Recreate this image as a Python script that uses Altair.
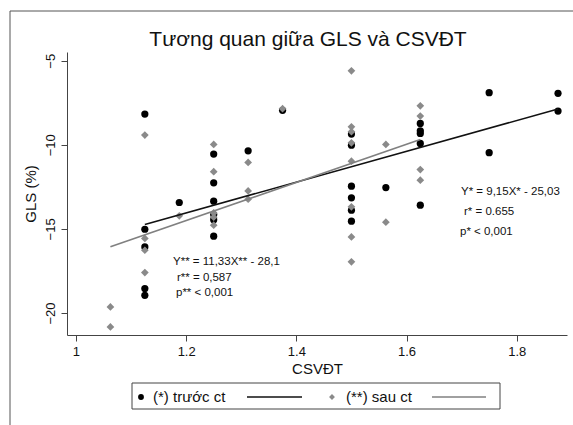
import altair as alt
import pandas as pd

# ---- data ----
before_x = [1.125, 1.125, 1.125, 1.125, 1.125,
            1.1875,
            1.25, 1.25, 1.25, 1.25, 1.25, 1.25,
            1.3125, 1.375,
            1.5, 1.5, 1.5, 1.5, 1.5, 1.5,
            1.5625,
            1.625, 1.625, 1.625, 1.625, 1.625,
            1.75, 1.75, 1.875, 1.875]
before_y = [-8.17, -15.02, -16.07, -18.55, -18.95,
            -13.43,
            -10.55, -12.26, -13.35, -14.15, -14.45, -15.43,
            -10.36, -7.95,
            -9.36, -10.02, -12.46, -13.15, -13.89, -14.54,
            -12.54,
            -8.73, -9.17, -9.32, -9.92, -13.59,
            -6.9, -10.47, -6.94, -7.99]

after_x = [1.0625, 1.0625,
           1.125, 1.125, 1.125, 1.125,
           1.1875,
           1.25, 1.25, 1.25, 1.25, 1.25,
           1.3125, 1.3125, 1.3125,
           1.375,
           1.5, 1.5, 1.5, 1.5, 1.5, 1.5, 1.5, 1.5,
           1.5625, 1.5625,
           1.625, 1.625, 1.625, 1.625]
after_y = [-19.64, -20.83,
           -9.42, -15.57, -16.27, -17.6,
           -14.22,
           -9.98, -11.6, -14.05, -14.3, -14.78,
           -11.05, -12.74, -13.23,
           -7.85,
           -5.6, -8.93, -9.22, -9.88, -10.97, -13.69, -15.48, -16.96,
           -9.98, -14.6,
           -7.68, -8.29, -11.47, -12.1]

fit_before_x = [1.125, 1.875]
fit_before_y = [-14.74, -7.87]
fit_after_x = [1.0625, 1.625]
fit_after_y = [-16.06, -9.69]

x_ticks = [1, 1.2, 1.4, 1.6, 1.8]
y_ticks = [-5, -10, -15, -20]

FONT = "Liberation Sans"
W, H = 500, 283

df_b = pd.DataFrame({"x": before_x, "y": before_y})
df_a = pd.DataFrame({"x": after_x, "y": after_y})
df_fb = pd.DataFrame({"x": fit_before_x, "y": fit_before_y})
df_fa = pd.DataFrame({"x": fit_after_x, "y": fit_after_y})

xs = alt.Scale(domain=[0.9837, 1.8913], nice=False, zero=False)
ys = alt.Scale(domain=[-21.31, -4.48], nice=False, zero=False)

xenc = alt.X("x:Q", scale=xs, title="CSVĐT",
             axis=alt.Axis(values=x_ticks, format="~g", grid=False, tickSize=6,
                           labelFontSize=13, titleFontSize=15, labelPadding=4,
                           titlePadding=3, domainColor="#444", tickColor="#444",
                           labelColor="#111", titleColor="#111", labelFont=FONT,
                           titleFont=FONT, titleFontWeight="normal"))
yenc = alt.Y("y:Q", scale=ys, title="GLS (%)",
             axis=alt.Axis(values=y_ticks, format="~g", grid=False, tickSize=6,
                           labelAngle=270, labelFontSize=13, titleFontSize=15,
                           labelPadding=4, titlePadding=6, domainColor="#444",
                           tickColor="#444", labelColor="#111", titleColor="#111",
                           labelFont=FONT, titleFont=FONT, titleFontWeight="normal"))

pts_b = alt.Chart(df_b).mark_point(shape="circle", filled=True, size=52,
                                   color="#000", opacity=1).encode(x=xenc, y=yenc)
pts_a = alt.Chart(df_a).mark_point(shape="diamond", filled=True, size=60,
                                   color="#8a8a8a", opacity=1).encode(x="x:Q", y="y:Q")
line_b = alt.Chart(df_fb).mark_line(color="#111", strokeWidth=1.6).encode(x="x:Q", y="y:Q")
line_a = alt.Chart(df_fa).mark_line(color="#808080", strokeWidth=1.6).encode(x="x:Q", y="y:Q")

def txt(s, x, y, size=11.5, align="left", color="#111"):
    return alt.Chart(pd.DataFrame({"t": [s]})).mark_text(
        align=align, baseline="middle", fontSize=size, font=FONT, color=color
    ).encode(text="t:N", x=alt.value(x), y=alt.value(y))

annots = [
    txt("Y* = 9,15X* - 25,03", 394, 140),
    txt("r* = 0.655", 397, 160),
    txt("p* < 0,001", 393, 180),
    txt("Y** = 11,33X** - 28,1", 106, 210),
    txt("r** = 0,587", 110, 226),
    txt("p** < 0,001", 109, 241),
    txt("Tương quan giữa GLS và CSVĐT", 241, -12, size=21, align="center"),
]

one = pd.DataFrame({"a": [0]})
frame_top = alt.Chart(one).mark_rule(color="#555", strokeWidth=1).encode(
    x=alt.value(-57), x2=alt.value(520), y=alt.value(-41), y2=alt.value(-41))
frame_left = alt.Chart(one).mark_rule(color="#555", strokeWidth=1).encode(
    x=alt.value(-57), x2=alt.value(-57), y=alt.value(-41), y2=alt.value(380))

legend_box = alt.Chart(one).mark_rect(fill="white", stroke="#444", strokeWidth=1).encode(
    x=alt.value(65), x2=alt.value(433), y=alt.value(331), y2=alt.value(357))
leg_dot = alt.Chart(one).mark_point(shape="circle", filled=True, size=34, color="#000",
                                    opacity=1).encode(x=alt.value(74), y=alt.value(345))
leg_dia = alt.Chart(one).mark_point(shape="diamond", filled=True, size=34, color="#8a8a8a",
                                    opacity=1).encode(x=alt.value(265), y=alt.value(345))
leg_lb = alt.Chart(one).mark_rule(color="#111", strokeWidth=1.6).encode(
    x=alt.value(180), x2=alt.value(235), y=alt.value(345), y2=alt.value(345))
leg_la = alt.Chart(one).mark_rule(color="#808080", strokeWidth=1.6).encode(
    x=alt.value(365), x2=alt.value(419), y=alt.value(345), y2=alt.value(345))
leg_t1 = txt("(*) trước ct", 86, 345, size=15)
leg_t2 = txt("(**) sau ct", 279, 345, size=15)

chart = alt.layer(
    frame_top, frame_left, pts_b, pts_a, line_b, line_a, *annots,
    legend_box, leg_dot, leg_dia, leg_lb, leg_la, leg_t1, leg_t2
).properties(
    width=W, height=H,
    autosize=alt.AutoSizeParams(type="none"),
    padding={"left": 67, "top": 52, "right": 6, "bottom": 90},
    background="white",
).configure_view(stroke=None)

chart.save("out.html", embed_options={"renderer": "svg", "actions": False})
